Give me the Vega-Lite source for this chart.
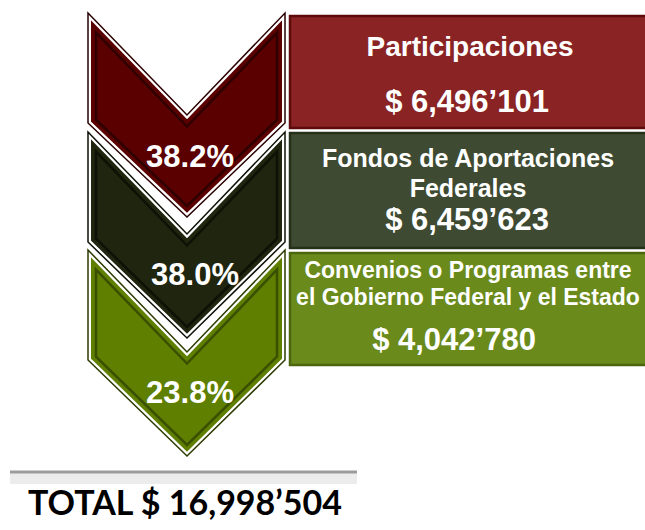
{
  "$schema": "https://vega.github.io/schema/vega-lite/v6.json",
  "width": 645,
  "height": 530,
  "padding": 0,
  "autosize": {"type": "none"},
  "background": "white",
  "config": {"view": {"stroke": null}},
  "datasets": {
    "chev": [
      {"c": 1, "x": 88, "top": 13, "bot": 123},
      {"c": 1, "x": 187, "top": 115, "bot": 217},
      {"c": 1, "x": 285, "top": 13, "bot": 123},
      {"c": 2, "x": 88, "top": 132, "bot": 242},
      {"c": 2, "x": 187, "top": 234, "bot": 338},
      {"c": 2, "x": 285, "top": 132, "bot": 242},
      {"c": 3, "x": 88, "top": 250, "bot": 360},
      {"c": 3, "x": 187, "top": 352, "bot": 456},
      {"c": 3, "x": 285, "top": 250, "bot": 360}
    ],
    "inner": [
      {"c": 1, "x": 96, "top": 32.7, "bot": 119.6},
      {"c": 1, "x": 187, "top": 126.5, "bot": 206},
      {"c": 1, "x": 277, "top": 32.7, "bot": 119.6},
      {"c": 2, "x": 96, "top": 151.7, "bot": 238.6},
      {"c": 2, "x": 187, "top": 245.5, "bot": 327},
      {"c": 2, "x": 277, "top": 151.7, "bot": 238.6},
      {"c": 3, "x": 96, "top": 269.7, "bot": 356.6},
      {"c": 3, "x": 187, "top": 363.5, "bot": 445},
      {"c": 3, "x": 277, "top": 269.7, "bot": 356.6}
    ],
    "boxes": [
      {"b": "Participaciones", "x1": 290, "x2": 652, "y1": 16, "y2": 128},
      {"b": "Fondos", "x1": 290, "x2": 652, "y1": 133, "y2": 248},
      {"b": "Convenios", "x1": 290, "x2": 652, "y1": 253, "y2": 365}
    ],
    "labels": [
      {"kind": "t1", "t": "Participaciones", "x": 470, "y": 56},
      {"kind": "amt", "t": "$ 6,496’101", "x": 467, "y": 112},
      {"kind": "t2", "t": "Fondos de Aportaciones", "x": 468, "y": 167},
      {"kind": "t2", "t": "Federales", "x": 468, "y": 197},
      {"kind": "amt", "t": "$ 6,459’623", "x": 467, "y": 230},
      {"kind": "t3", "t": "Convenios o Programas entre", "x": 468, "y": 278},
      {"kind": "t3", "t": "el Gobierno Federal y el Estado", "x": 468, "y": 305},
      {"kind": "amt", "t": "$ 4,042’780", "x": 454, "y": 350},
      {"kind": "pct", "t": "38.2%", "x": 190, "y": 167},
      {"kind": "pct", "t": "38.0%", "x": 195, "y": 285},
      {"kind": "pct", "t": "23.8%", "x": 190, "y": 403},
      {"kind": "total", "t": "TOTAL $ 16,998’504", "x": 185, "y": 515}
    ],
    "shelf": [
      {"x1": 10, "x2": 357, "y1": 472, "y2": 484}
    ]
  },
  "layer": [
    {
      "data": {"name": "shelf"},
      "mark": {"type": "rect", "fill": "#ececec"},
      "encoding": {
        "x": {"field": "x1", "type": "quantitative", "scale": {"domain": [0, 645], "nice": false, "zero": false}, "axis": null},
        "x2": {"field": "x2"},
        "y": {"field": "y1", "type": "quantitative", "scale": {"domain": [0, 530], "reverse": true, "nice": false, "zero": false}, "axis": null},
        "y2": {"field": "y2"}
      }
    },
    {
      "data": {"name": "shelf"},
      "mark": {"type": "rule", "stroke": "#9c9c9c", "strokeWidth": 3},
      "encoding": {
        "x": {"field": "x1", "type": "quantitative", "axis": null},
        "x2": {"field": "x2"},
        "y": {"field": "y1", "type": "quantitative", "axis": null}
      }
    },
    {
      "data": {"name": "boxes"},
      "mark": {"type": "rect", "strokeWidth": 2.5, "clip": true},
      "encoding": {
        "x": {"field": "x1", "type": "quantitative", "axis": null},
        "x2": {"field": "x2"},
        "y": {"field": "y1", "type": "quantitative", "axis": null},
        "y2": {"field": "y2"},
        "fill": {"field": "b", "type": "nominal", "legend": null, "scale": {"domain": ["Participaciones", "Fondos", "Convenios"], "range": ["#8a2424", "#3e4a31", "#6a8b1c"]}},
        "stroke": {"field": "b", "type": "nominal", "legend": null, "scale": {"domain": ["Participaciones", "Fondos", "Convenios"], "range": ["#5e0a0a", "#263019", "#4c660e"]}}
      }
    },
    {
      "data": {"name": "chev"},
      "transform": [{"filter": "datum.c === 3"}],
      "mark": {"type": "area", "fill": "#5f7f00", "stroke": "white", "strokeWidth": 6, "strokeJoin": "miter"},
      "encoding": {
        "x": {"field": "x", "type": "quantitative", "axis": null},
        "y": {"field": "top", "type": "quantitative", "axis": null},
        "y2": {"field": "bot"}
      }
    },
    {
      "data": {"name": "chev"},
      "transform": [{"filter": "datum.c === 3"}],
      "mark": {"type": "area", "fill": "transparent", "stroke": "#2b3a00", "strokeWidth": 1.5, "strokeJoin": "miter"},
      "encoding": {
        "x": {"field": "x", "type": "quantitative", "axis": null},
        "y": {"field": "top", "type": "quantitative", "axis": null},
        "y2": {"field": "bot"}
      }
    },
    {
      "data": {"name": "inner"},
      "transform": [{"filter": "datum.c === 3"}],
      "mark": {"type": "area", "fill": "transparent", "stroke": "#3a5000", "strokeWidth": 2.5, "strokeJoin": "miter"},
      "encoding": {
        "x": {"field": "x", "type": "quantitative", "axis": null},
        "y": {"field": "top", "type": "quantitative", "axis": null},
        "y2": {"field": "bot"}
      }
    },
    {
      "data": {"name": "chev"},
      "transform": [{"filter": "datum.c === 2"}],
      "mark": {"type": "area", "fill": "#1f250f", "stroke": "white", "strokeWidth": 6, "strokeJoin": "miter"},
      "encoding": {
        "x": {"field": "x", "type": "quantitative", "axis": null},
        "y": {"field": "top", "type": "quantitative", "axis": null},
        "y2": {"field": "bot"}
      }
    },
    {
      "data": {"name": "chev"},
      "transform": [{"filter": "datum.c === 2"}],
      "mark": {"type": "area", "fill": "transparent", "stroke": "#0d1005", "strokeWidth": 1.5, "strokeJoin": "miter"},
      "encoding": {
        "x": {"field": "x", "type": "quantitative", "axis": null},
        "y": {"field": "top", "type": "quantitative", "axis": null},
        "y2": {"field": "bot"}
      }
    },
    {
      "data": {"name": "inner"},
      "transform": [{"filter": "datum.c === 2"}],
      "mark": {"type": "area", "fill": "transparent", "stroke": "#0e1206", "strokeWidth": 2.5, "strokeJoin": "miter"},
      "encoding": {
        "x": {"field": "x", "type": "quantitative", "axis": null},
        "y": {"field": "top", "type": "quantitative", "axis": null},
        "y2": {"field": "bot"}
      }
    },
    {
      "data": {"name": "chev"},
      "transform": [{"filter": "datum.c === 1"}],
      "mark": {"type": "area", "fill": "#5a0000", "stroke": "white", "strokeWidth": 6, "strokeJoin": "miter"},
      "encoding": {
        "x": {"field": "x", "type": "quantitative", "axis": null},
        "y": {"field": "top", "type": "quantitative", "axis": null},
        "y2": {"field": "bot"}
      }
    },
    {
      "data": {"name": "chev"},
      "transform": [{"filter": "datum.c === 1"}],
      "mark": {"type": "area", "fill": "transparent", "stroke": "#2a0000", "strokeWidth": 1.5, "strokeJoin": "miter"},
      "encoding": {
        "x": {"field": "x", "type": "quantitative", "axis": null},
        "y": {"field": "top", "type": "quantitative", "axis": null},
        "y2": {"field": "bot"}
      }
    },
    {
      "data": {"name": "inner"},
      "transform": [{"filter": "datum.c === 1"}],
      "mark": {"type": "area", "fill": "transparent", "stroke": "#300000", "strokeWidth": 2.5, "strokeJoin": "miter"},
      "encoding": {
        "x": {"field": "x", "type": "quantitative", "axis": null},
        "y": {"field": "top", "type": "quantitative", "axis": null},
        "y2": {"field": "bot"}
      }
    },
    {
      "data": {"name": "labels"},
      "transform": [{"filter": "datum.kind === 't1'"}],
      "mark": {"type": "text", "font": "Liberation Sans", "fontWeight": "bold", "fontSize": 28, "fill": "white", "align": "center", "baseline": "alphabetic"},
      "encoding": {
        "x": {"field": "x", "type": "quantitative", "axis": null},
        "y": {"field": "y", "type": "quantitative", "axis": null},
        "text": {"field": "t"}
      }
    },
    {
      "data": {"name": "labels"},
      "transform": [{"filter": "datum.kind === 't2'"}],
      "mark": {"type": "text", "font": "Liberation Sans", "fontWeight": "bold", "fontSize": 25, "fill": "white", "align": "center", "baseline": "alphabetic"},
      "encoding": {
        "x": {"field": "x", "type": "quantitative", "axis": null},
        "y": {"field": "y", "type": "quantitative", "axis": null},
        "text": {"field": "t"}
      }
    },
    {
      "data": {"name": "labels"},
      "transform": [{"filter": "datum.kind === 't3'"}],
      "mark": {"type": "text", "font": "Liberation Sans", "fontWeight": "bold", "fontSize": 23, "fill": "white", "align": "center", "baseline": "alphabetic"},
      "encoding": {
        "x": {"field": "x", "type": "quantitative", "axis": null},
        "y": {"field": "y", "type": "quantitative", "axis": null},
        "text": {"field": "t"}
      }
    },
    {
      "data": {"name": "labels"},
      "transform": [{"filter": "datum.kind === 'amt'"}],
      "mark": {"type": "text", "font": "Liberation Sans", "fontWeight": "bold", "fontSize": 31, "fill": "white", "align": "center", "baseline": "alphabetic"},
      "encoding": {
        "x": {"field": "x", "type": "quantitative", "axis": null},
        "y": {"field": "y", "type": "quantitative", "axis": null},
        "text": {"field": "t"}
      }
    },
    {
      "data": {"name": "labels"},
      "transform": [{"filter": "datum.kind === 'pct'"}],
      "mark": {"type": "text", "font": "Liberation Sans", "fontWeight": "bold", "fontSize": 31, "fill": "white", "align": "center", "baseline": "alphabetic"},
      "encoding": {
        "x": {"field": "x", "type": "quantitative", "axis": null},
        "y": {"field": "y", "type": "quantitative", "axis": null},
        "text": {"field": "t"}
      }
    },
    {
      "data": {"name": "labels"},
      "transform": [{"filter": "datum.kind === 'total'"}],
      "mark": {"type": "text", "font": "Lato", "fontWeight": "bold", "fontSize": 34, "fill": "black", "align": "center", "baseline": "alphabetic"},
      "encoding": {
        "x": {"field": "x", "type": "quantitative", "axis": null},
        "y": {"field": "y", "type": "quantitative", "axis": null},
        "text": {"field": "t"}
      }
    }
  ]
}
